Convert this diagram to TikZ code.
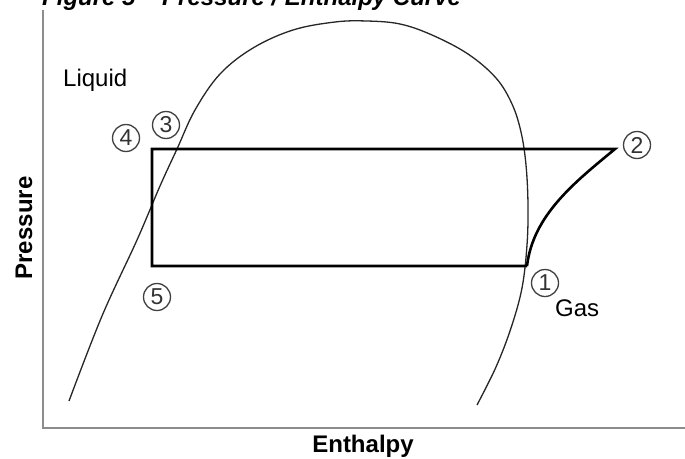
\documentclass[tikz,border=0pt]{standalone}
\usepackage{fontspec}
\setmainfont{Liberation Sans}
\begin{document}
\begin{tikzpicture}[x=1pt,y=-1pt,
  axis/.style={draw=black!45,line width=1.6pt},
  dome/.style={draw=black!85,line width=1.3pt},
  cycle/.style={draw=black,line width=2.6pt,line join=miter},
  circnum/.style={circle,draw=black!75,line width=1.3pt,minimum size=27pt,inner sep=0pt,font=\fontsize{23}{23}\selectfont,text=black!80},
  lbl/.style={inner sep=0pt,font=\fontsize{24}{24}\selectfont},
  bl/.style={inner sep=0pt,font=\fontsize{24}{24}\selectfont\bfseries}]
\useasboundingbox (0,0) rectangle (685,458);
\fill[white] (0,0) rectangle (685,458);
% title (cut by the page edge)
\node[inner sep=0pt,anchor=base west,font=\fontsize{24}{24}\selectfont\bfseries\itshape] (title) at (42,5) {Figure 5 -- Pressure / Enthalpy Curve};
% axes
\coordinate (o) at (43,428);
\coordinate (ytop) at (43,10);
\coordinate (xend) at (685,428);
\draw[axis] (ytop) -- (o) -- (xend);
% saturation dome
\draw[dome] plot[smooth,tension=0.6] coordinates {(69,401) (102,316) (137,240) (160,186) (177,149) (195,110) (220,74) (253,48) (293,30) (335,22) (367,21) (400,24) (432,35) (468,54) (496,78) (512,104) (521,132) (526,165) (528,205) (527,245) (522,288) (511,328) (496,367) (477,405)};
% cycle
\coordinate (c1) at (527,266);
\coordinate (c2) at (615,149);
\coordinate (c4) at (152,149);
\coordinate (c5) at (152,266);
\draw[cycle] (c1) -- (c5) -- (c4) -- (c2) .. controls (575,182) and (533,215) .. (c1);
% circled numbers
\node[circnum] (n1) at (545,283) {1};
\node[circnum] (n2) at (637,145) {2};
\node[circnum] (n3) at (166,125) {3};
\node[circnum] (n4) at (126,138) {4};
\node[circnum] (n5) at (157,297) {5};
% labels
\node[lbl,anchor=base west] (liq) at (63,86) {Liquid};
\node[lbl,anchor=base west] (gas) at (555,316) {Gas};
\node[bl,anchor=base] (enth) at (363,452) {Enthalpy};
\node[bl,anchor=base,rotate=90] (pres) at (32,228) {Pressure};
\end{tikzpicture}
\end{document}
